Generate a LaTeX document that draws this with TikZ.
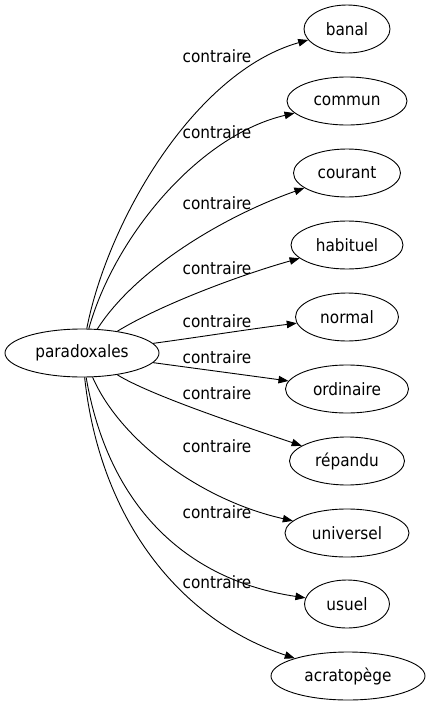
\documentclass[tikz,border=0pt]{standalone}
\usepackage{fontspec}
\setmainfont{DejaVu Sans Condensed}
\usetikzlibrary{shapes.geometric,arrows.meta}
\tikzset{
  word/.style={draw=black, line width=0.9pt, ellipse, inner sep=0pt, minimum height=48pt, font=\fontsize{17}{20}\selectfont},
  rel/.style={inner sep=0pt, font=\fontsize{17}{20}\selectfont},
  link/.style={draw=black, line width=0.9pt, -{Triangle[length=10pt,width=7.5pt]}}
}
\begin{document}
\begin{tikzpicture}[x=1pt,y=-1pt]
\useasboundingbox (0,0) rectangle (428,707);
\node[word, minimum width=154pt] (p) at (82,353) {paradoxales};
\node[word, minimum width=86pt]  (t1) at (347,29)  {banal};
\node[word, minimum width=120pt] (t2) at (347,101) {commun};
\node[word, minimum width=107pt] (t3) at (347,173) {courant};
\node[word, minimum width=112pt] (t4) at (347,245) {habituel};
\node[word, minimum width=103pt] (t5) at (347,317) {normal};
\node[word, minimum width=123pt] (t6) at (347,389) {ordinaire};
\node[word, minimum width=115pt] (t7) at (347,461) {répandu};
\node[word, minimum width=124pt] (t8) at (347,533) {universel};
\node[word, minimum width=85pt]  (t9) at (347,604) {usuel};
\node[word, minimum width=154pt] (t10) at (348,676) {acratopège};

\node[rel] (l1) at (217,56) {contraire};
\node[rel] (l2) at (217,132) {contraire};
\node[rel] (l3) at (217,203) {contraire};
\node[rel] (l4) at (217,268) {contraire};
\node[rel] (l5) at (217,321) {contraire};
\node[rel] (l6) at (217,357) {contraire};
\node[rel] (l7) at (217,393) {contraire};
\node[rel] (l8) at (217,446) {contraire};
\node[rel] (l9) at (217,512) {contraire};
\node[rel] (l10) at (217,582) {contraire};

\draw[link] (p) .. controls (108,220) and (195,72) .. (t1);
\draw[link] (p) .. controls (115,235) and (200,135) .. (t2);
\draw[link] (p) .. controls (135,270) and (222,217) .. (t3);
\draw[link] (p) .. controls (160,305) and (240,275) .. (t4);
\draw[link] (p) .. controls (200,337) and (250,329) .. (t5);
\draw[link] (p) .. controls (200,369) and (245,375) .. (t6);
\draw[link] (p) .. controls (150,395) and (240,425) .. (t7);
\draw[link] (p) .. controls (120,440) and (200,500) .. (t8);
\draw[link] (p) .. controls (108,505) and (185,580) .. (t9);
\draw[link] (p) .. controls (100,520) and (180,620) .. (t10);
\end{tikzpicture}
\end{document}
